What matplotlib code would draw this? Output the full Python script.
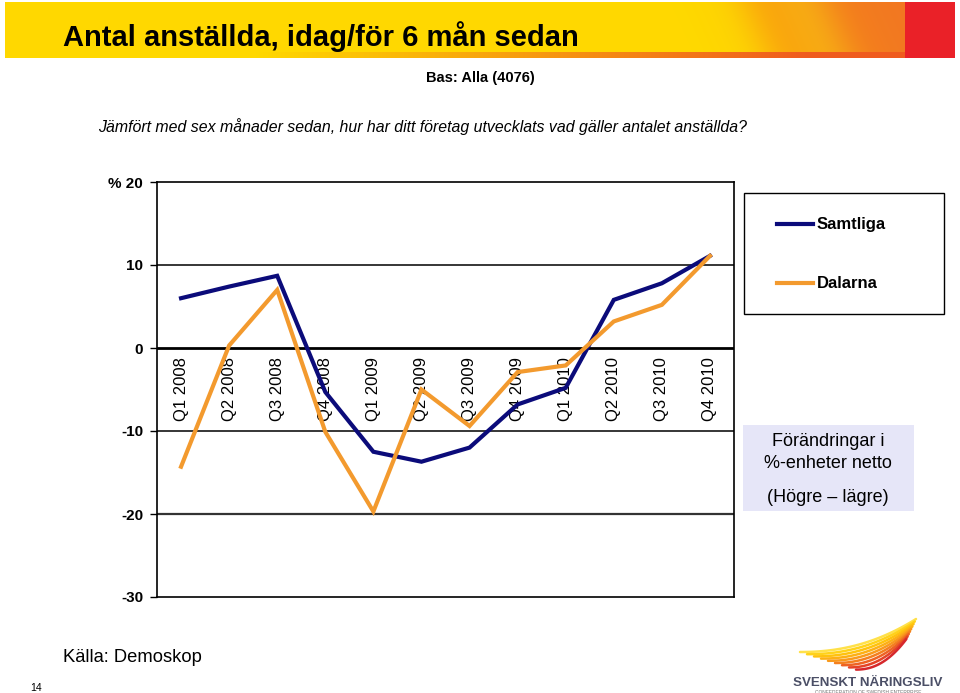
import numpy as np
import matplotlib
matplotlib.use("Agg")
import matplotlib.pyplot as plt
from matplotlib.patches import Rectangle
from matplotlib.lines import Line2D
from matplotlib import font_manager

categories = ["Q1 2008", "Q2 2008", "Q3 2008", "Q4 2008",
              "Q1 2009", "Q2 2009", "Q3 2009", "Q4 2009",
              "Q1 2010", "Q2 2010", "Q3 2010", "Q4 2010"]
samtliga = [6.0, 7.4, 8.7, -5.3, -12.5, -13.7, -12.0, -6.8, -4.8, 5.8, 7.8, 11.1]
dalarna = [-14.3, 0.3, 7.0, -10.1, -19.7, -5.0, -9.4, -2.9, -2.1, 3.2, 5.2, 11.1]
series_names = ["Samtliga", "Dalarna"]
series_colors = ["#0B0B7A", "#F39A2E"]
yticks = [-30, -20, -10, 0, 10, 20]
ytick_labels = ["-30", "-20", "-10", "0", "10", "% 20"]

W, H = 960, 693
fig = plt.figure(figsize=(W / 100, H / 100), dpi=100)
plt.rcParams['font.family'] = ['Liberation Sans', 'DejaVu Sans']

def fx(px):
    return px / W

def fy(py):
    return 1 - py / H

# ---- Title banner (gradient) ----
bw, bh = 950, 56
xs = np.arange(bw)[None, :].repeat(bh, 0).astype(float)
ys = np.arange(bh)[:, None].repeat(bw, 1).astype(float)
yellow = np.array([1.0, 0.85, 0.0])
orange = np.array([0.95, 0.47, 0.13])
red = np.array([0.92, 0.13, 0.16])
xd = xs + (bh - ys) * 0.45
t = np.clip((xd - 690) / 230, 0, 1)
t = t * t * (3 - 2 * t)
stripe = 0.05 * np.sin(xd / 16.0) * np.sin(np.pi * t)
img = np.zeros((bh, bw, 3))
for c in range(3):
    img[:, :, c] = yellow[c] * (1 - t) + orange[c] * t
img[:, :, 1] += stripe
tb = np.clip((xs - 250) / 550, 0, 1)
strip = ys >= bh - 6
stripcol = np.array([0.94, 0.36, 0.12])
for c in range(3):
    img[:, :, c] = np.where(strip, yellow[c] * (1 - tb) + stripcol[c] * tb, img[:, :, c])
img[:, 900:, :] = red
img = np.clip(img, 0, 1)
bax = fig.add_axes([fx(5), fy(58), fx(bw), bh / H])
bax.imshow(img, aspect='auto', interpolation='bilinear')
bax.set_axis_off()

names = {f.name for f in font_manager.fontManager.ttflist}
title_family = ['Liberation Sans Narrow', 'Liberation Sans'] if 'Liberation Sans Narrow' in names else ['Liberation Sans']
title = fig.text(fx(63), fy(37), "Antal anställda, idag/för 6 mån sedan", family=title_family,
                 fontsize=25, fontweight='bold', ha='left', va='center', color='black')
fig.canvas.draw()
bb = title.get_window_extent()
title.set_fontsize(25 * 514 / bb.width)

fig.text(fx(480), fy(78), "Bas: Alla (4076)", fontsize=10.5, fontweight='bold', ha='center', va='center')
fig.text(fx(423), fy(127), "Jämfört med sex månader sedan, hur har ditt företag utvecklats vad gäller antalet anställda?",
         fontsize=11.4, style='italic', ha='center', va='center')

# ---- Main axes ----
ax = fig.add_axes([fx(157), fy(597), fx(577), (597 - 182) / H])
x = np.arange(len(categories))
ax.plot(x, samtliga, color=series_colors[0], lw=3.0, solid_joinstyle='miter', zorder=3)
ax.plot(x, dalarna, color=series_colors[1], lw=3.0, solid_joinstyle='miter', zorder=4)
ax.set_xlim(-0.5, len(categories) - 0.5)
ax.set_ylim(-30, 20)
ax.set_yticks(yticks)
ax.set_yticklabels(ytick_labels, fontsize=11, fontweight='bold')
ax.set_xticks([])
ax.tick_params(axis='y', length=5, width=1.0, pad=5, direction='out')
for yv in [10, -10]:
    ax.axhline(yv, color='black', lw=1.1, zorder=1)
ax.axhline(-20, color='#333333', lw=1.6, zorder=1)
ax.axhline(0, color='black', lw=2.0, zorder=1)
for s in ax.spines.values():
    s.set_linewidth(1.2)
    s.set_color('black')
for i, c in enumerate(categories):
    ax.annotate(c, xy=(i, 0), xytext=(0, -6.5), textcoords='offset points',
                rotation=90, ha='center', va='top', fontsize=12, zorder=2)

# ---- Legend box ----
fig.patches.append(Rectangle((fx(744), fy(314)), fx(200), 121 / H, transform=fig.transFigure,
                             facecolor='white', edgecolor='black', lw=1.0))
for k, (name, col) in enumerate(zip(series_names, series_colors)):
    yy = fy(224 + 59 * k)
    fig.lines.append(Line2D([fx(777), fx(813)], [yy, yy], transform=fig.transFigure,
                            color=col, lw=3.0))
    fig.text(fx(817), yy, name, fontsize=12, fontweight='bold', ha='left', va='center')

# ---- Info box ----
fig.patches.append(Rectangle((fx(743), fy(511)), fx(171), 86 / H, transform=fig.transFigure,
                             facecolor='#E6E6F8', edgecolor='none'))
fig.text(fx(828), fy(441), "Förändringar i", fontsize=13, ha='center', va='center')
fig.text(fx(828), fy(464), "%-enheter netto", fontsize=13, ha='center', va='center')
fig.text(fx(828), fy(497), "(Högre – lägre)", fontsize=13, ha='center', va='center')

# ---- Footer ----
fig.text(fx(63), fy(658), "Källa: Demoskop", fontsize=13.2, ha='left', va='center')
fig.text(fx(30), fy(688), "14", fontsize=7.5, ha='left', va='center')

# logo wings (decorative)
wing_cols = ['#FFE14A', '#FFD21A', '#FFC20E', '#FDB015', '#F99A1C', '#F4801F', '#EE6322', '#E54426', '#D6282C']
n = len(wing_cols)
for k, col in enumerate(wing_cols):
    tt = np.linspace(0, 1, 40)
    x0 = 800 + k * 7
    y0 = 652 + k * 2.2
    x1 = 916 - k * 1.2
    y1 = 619 + k * 2.5
    px = x0 + (x1 - x0) * tt
    base = y0 + (y1 - y0) * tt ** 2.2
    py = base
    fig.lines.append(Line2D(fx(px), fy(py), transform=fig.transFigure, color=col,
                            lw=1.8, solid_capstyle='round'))
fig.text(fx(868), fy(683), "SVENSKT NÄRINGSLIV", fontsize=9.6, fontweight='bold',
         ha='center', va='center', color='#4B4F66')
fig.text(fx(868), fy(692), "CONFEDERATION OF SWEDISH ENTERPRISE", fontsize=3.5,
         ha='center', va='center', color='#777777')

fig.savefig("out.png", dpi=100)
